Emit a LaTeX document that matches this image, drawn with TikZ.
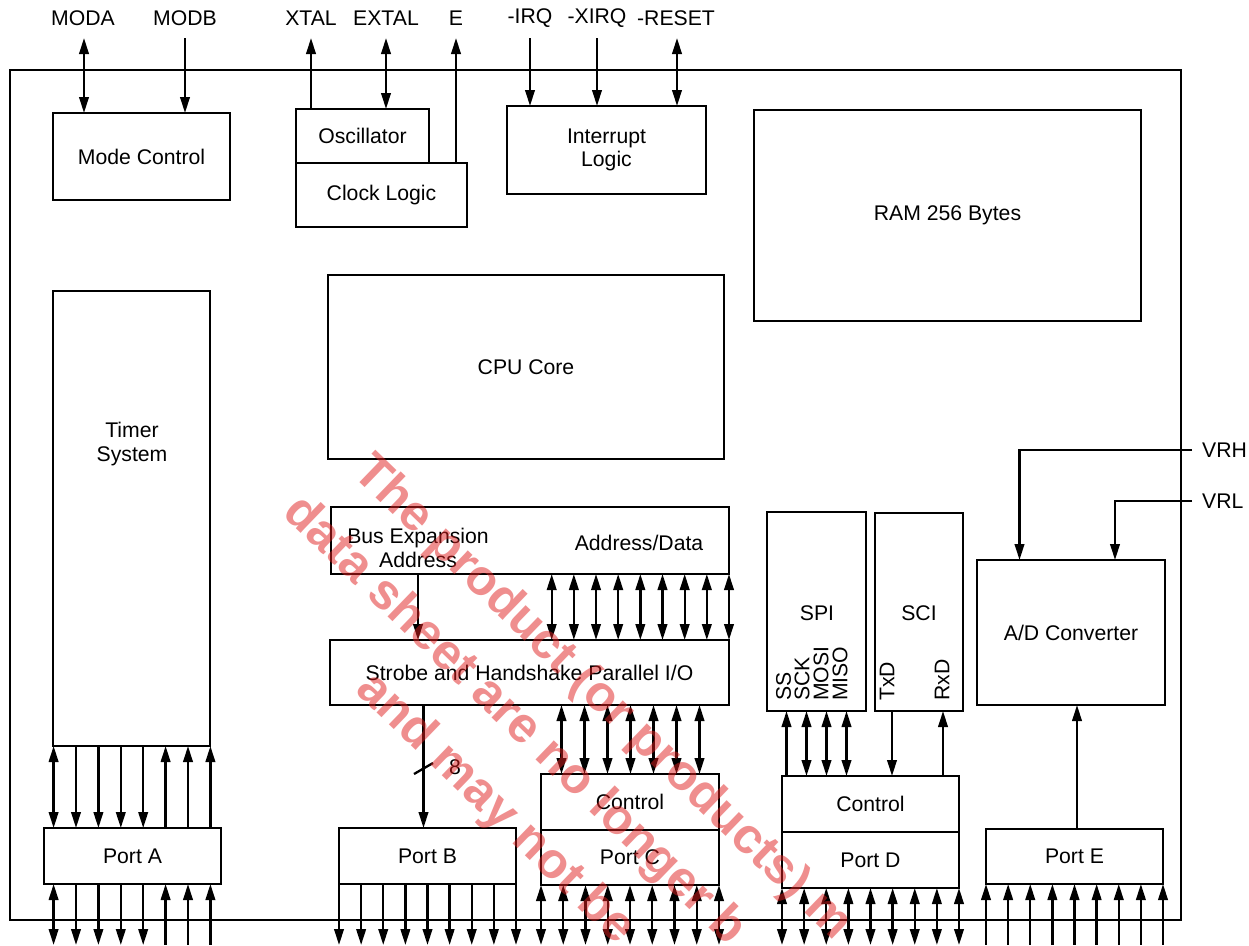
\documentclass[tikz,border=0pt]{standalone}
\usepackage{fontspec}
\setmainfont{Liberation Sans}
\usetikzlibrary{arrows.meta}
\definecolor{wmred}{RGB}{225,30,30}
\newcommand\mkbox[6]{\node[blk, anchor=north west, minimum width={#4-#2}, minimum height={#5-#3}] (#1) at (#2,#3) {#6};}
\begin{document}
\begin{tikzpicture}[x=1pt,y=-1pt,
  every node/.style={font=\fontsize{21.2}{23.5}\selectfont},
  blk/.style={draw, line width=2.4pt, inner sep=0pt, outer sep=0pt, align=center},
  lbl/.style={inner sep=0pt, align=center},
  wire/.style={line width=2.3pt},
  >={Triangle[length=16pt,width=9.5pt]},
  arBoth/.style={<->}, arEnd/.style={->}, arStart/.style={<-},
  wm/.style={rotate=-44, anchor=west, inner sep=0pt, text=wmred, text opacity=0.5, font=\fontsize{50}{50}\selectfont\bfseries}
]
\useasboundingbox (0,0) rectangle (1249,945);
\fill[white] (0,0) rectangle (1249,945);
\coordinate (bot) at (0,945);

% boxes
\mkbox{chip}{10}{70}{1181}{920}{}
\mkbox{mode}{53}{113}{230}{200}{Mode Control}
\mkbox{osc}{296}{109}{429}{163}{Oscillator}
\mkbox{clk}{296}{163}{467}{227}{Clock Logic}
\mkbox{intr}{507}{106}{706}{194}{Interrupt\\Logic}
\mkbox{ram}{754}{110}{1141}{321}{RAM 256 Bytes}
\mkbox{cpu}{328}{275}{724}{459}{CPU Core}
\mkbox{timer}{53}{291}{210}{746}{}
\node[lbl] (timerT) at (132,444) {Timer\\System};
\mkbox{busx}{331}{507}{729}{574}{}
\node[lbl] (busxA) at (418,548) {Bus Expansion\\Address};
\node[lbl] (busxD) at (639,543) {Address/Data};
\mkbox{strobe}{330}{640}{729}{705}{Strobe and Handshake Parallel I/O}
\mkbox{ctlC}{541}{774}{719}{830}{Control}
\mkbox{portC}{541}{830}{719}{885}{Port C}
\mkbox{portA}{44}{828}{221}{884}{Port A}
\mkbox{portB}{339}{828}{516}{884}{Port B}
\mkbox{spi}{767}{512}{866}{711}{}
\node[lbl] (spiT) at (817,613) {SPI};
\foreach \n/\x in {SS/783.5,SCK/802,MOSI/821,MISO/840}
  \node[lbl, rotate=90, anchor=west] (spi\n) at (\x,701) {\n};
\mkbox{sci}{875}{513}{963}{711}{}
\node[lbl] (sciT) at (919,613) {SCI};
\node[lbl, rotate=90, anchor=west] (sciTx) at (887,701) {TxD};
\node[lbl, rotate=90, anchor=west] (sciRx) at (942,701) {RxD};
\mkbox{ctlD}{782}{776}{959}{832}{Control}
\mkbox{portD}{782}{832}{959}{888}{Port D}
\mkbox{ad}{977}{560}{1165}{705}{A/D Converter}
\mkbox{portE}{986}{829}{1163}{884}{Port E}

% top pins
\node[lbl] (tMODA) at (83,18) {MODA};
\node[lbl] (tMODB) at (185,18) {MODB};
\node[lbl] (tXTAL) at (311,18) {XTAL};
\node[lbl] (tEXTAL) at (386,18) {EXTAL};
\node[lbl] (tE) at (456,18) {E};
\node[lbl] (tIRQ) at (530,18) {-IRQ};
\node[lbl] (tXIRQ) at (597,18) {-XIRQ};
\node[lbl] (tRESET) at (676,18) {-RESET};
\coordinate (pMODA) at (84,38);
\coordinate (pMODB) at (185,38);
\coordinate (pXTAL) at (311,38);
\coordinate (pEXTAL) at (386,38);
\coordinate (pE) at (456,38);
\coordinate (pIRQ) at (530,38);
\coordinate (pXIRQ) at (597,38);
\coordinate (pRESET) at (677,38);
\draw[wire,arBoth] (pMODA) -- (pMODA |- mode.north);
\draw[wire,arEnd] (pMODB) -- (pMODB |- mode.north);
\draw[wire,arStart] (pXTAL) -- (pXTAL |- osc.north);
\draw[wire,arBoth] (pEXTAL) -- (pEXTAL |- osc.north);
\draw[wire,arStart] (pE) -- (pE |- clk.north);
\draw[wire,arEnd] (pIRQ) -- (pIRQ |- intr.north);
\draw[wire,arEnd] (pXIRQ) -- (pXIRQ |- intr.north);
\draw[wire,arBoth] (pRESET) -- (pRESET |- intr.north);

% Port A
\foreach \i/\s in {0/arBoth,1/arEnd,2/arEnd,3/arEnd,4/arEnd,5/arStart,6/arStart,7/arStart} {
  \pgfmathsetmacro\xx{53.6+22.4*\i}
  \draw[wire,\s] (\xx,0 |- timer.south) -- (\xx,0 |- portA.north);
  \draw[wire,\s] (\xx,0 |- portA.south) -- (\xx,0 |- bot);
}
% Port B, C, D, E bottoms and Address/Data bus
\foreach \i in {0,...,8} {
  \pgfmathsetmacro\xb{339+22.125*\i}
  \pgfmathsetmacro\xc{541+22.25*\i}
  \pgfmathsetmacro\xd{782+22.125*\i}
  \pgfmathsetmacro\xe{986+22.125*\i}
  \pgfmathsetmacro\xa{551.7+22.16*\i}
  \draw[wire,arEnd] (\xb,0 |- portB.south) -- (\xb,0 |- bot);
  \draw[wire,arBoth] (\xc,0 |- portC.south) -- (\xc,0 |- bot);
  \draw[wire,arBoth] (\xd,0 |- portD.south) -- (\xd,0 |- bot);
  \draw[wire,arStart] (\xe,0 |- portE.south) -- (\xe,0 |- bot);
  \draw[wire,arBoth] (\xa,0 |- busx.south) -- (\xa,0 |- strobe.north);
}
\foreach \i in {0,...,6} {
  \pgfmathsetmacro\xs{561.5+23*\i}
  \draw[wire,arBoth] (\xs,0 |- strobe.south) -- (\xs,0 |- ctlC.north);
}
\draw[wire,arEnd] (418,0 |- busx.south) -- (418,0 |- strobe.north);
\draw[wire,arEnd] (423.5,0 |- strobe.south) -- (423.5,0 |- portB.north);
\draw[wire] (414,774) -- (433,763);
\node[lbl] (eight) at (455,767) {8};

% SPI / SCI
\draw[wire,arStart] (786.5,0 |- spi.south) -- (786.5,0 |- ctlD.north);
\foreach \x in {806.5,826.5,846.5}
  \draw[wire,arBoth] (\x,0 |- spi.south) -- (\x,0 |- ctlD.north);
\draw[wire,arEnd] (892,0 |- sci.south) -- (892,0 |- ctlD.north);
\draw[wire,arStart] (943,0 |- sci.south) -- (943,0 |- ctlD.north);

% A/D
\draw[wire,arEnd] (1077,0 |- portE.north) -- (1077,0 |- ad.south);
\coordinate (vrh) at (1192,450);
\coordinate (vrl) at (1192,501);
\draw[wire,arEnd] (vrh) -| (1019.5,0 |- ad.north);
\draw[wire,arEnd] (vrl) -| (1115,0 |- ad.north);
\node[lbl, anchor=west] (lVRH) at (1202,450) {VRH};
\node[lbl, anchor=west] (lVRL) at (1202,501) {VRL};

% watermark
\node[wm] (wm1) at (360,465) {The product (or products) m};
\node[wm] (wm2) at (290,505) {data sheet are no longer b};
\node[wm] (wm3) at (363,682) {and may not be};
\end{tikzpicture}
\end{document}
